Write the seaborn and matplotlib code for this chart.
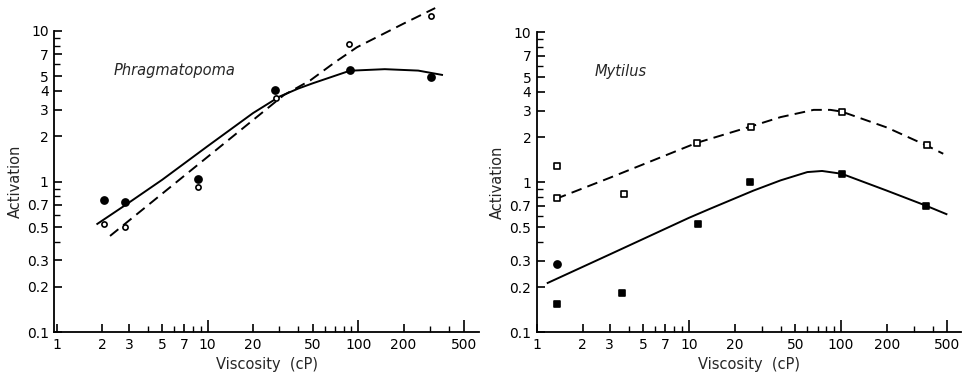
import numpy as np
import pandas as pd
import matplotlib
matplotlib.use("Agg")
import matplotlib.pyplot as plt
import seaborn as sns

# ---------------- data ----------------
# Phragmatopoma
phr_filled_x = [2.06, 2.85, 8.6, 28.1, 88, 304]
phr_filled_y = [0.76, 0.73, 1.04, 4.08, 5.52, 4.98]
phr_open_x = [2.06, 2.85, 8.6, 28.5, 87, 304]
phr_open_y = [0.52, 0.50, 0.92, 3.61, 8.25, 12.6]
phr_solid_x = [1.83, 2.85, 5, 10, 20, 30, 40, 50, 88, 150, 250, 365]
phr_solid_y = [0.52, 0.70, 1.03, 1.72, 2.85, 3.67, 4.15, 4.5, 5.45, 5.58, 5.46, 5.1]
phr_dash_x = [2.25, 32, 48, 70, 98, 200, 324]
phr_dash_y = [0.436, 3.75, 4.7, 6.2, 7.8, 11.2, 14.2]

# Mytilus
myt_open_sq_x = [1.36, 1.36, 3.75, 11.3, 25.5, 101.5, 365]
myt_open_sq_y = [0.78, 1.29, 0.83, 1.83, 2.34, 2.96, 1.76]
myt_filled_sq_x = [1.36, 3.65, 11.5, 25, 101.5, 360]
myt_filled_sq_y = [0.155, 0.182, 0.53, 1.0, 1.13, 0.70]
myt_filled_ci_x = [1.36]
myt_filled_ci_y = [0.284]
myt_solid_x = [1.16, 3, 10, 13.7, 26.5, 40, 60, 75, 101, 200, 360, 500]
myt_solid_y = [0.212, 0.33, 0.58, 0.665, 0.88, 1.03, 1.17, 1.19, 1.14, 0.88, 0.70, 0.61]
myt_dash_x = [1.33, 3, 11.2, 25.3, 40, 66, 85, 101, 200, 365, 470]
myt_dash_y = [0.775, 1.07, 1.83, 2.35, 2.72, 3.04, 3.04, 2.96, 2.32, 1.76, 1.55]

x_major = [1, 2, 3, 5, 7, 10, 20, 50, 100, 200, 500]
x_labels = ["1", "2", "3", "5", "7", "10", "20", "50", "100", "200", "500"]
x_minor = [4, 6, 8, 9, 30, 40, 60, 70, 80, 90, 300, 400]
y_major = [0.1, 0.2, 0.3, 0.5, 0.7, 1, 2, 3, 4, 5, 7, 10]
y_labels = ["0.1", "0.2", "0.3", "0.5", "0.7", "1", "2", "3", "4", "5", "7", "10"]
y_minor = [0.4, 0.6, 0.8, 0.9, 6, 8, 9]

# ---------------- style ----------------
sns.set_style("ticks")
plt.rcParams["font.family"] = ["DejaVu Sans"]

W, H = 972, 377
fig = plt.figure(figsize=(W / 100, H / 100), dpi=100)
fig.patch.set_facecolor("white")
ax1 = fig.add_axes([54.3 / W, (H - 332.3) / H, (479 - 54.3) / W, (332.3 - 31) / H])
ax2 = fig.add_axes([537 / W, (H - 332.3) / H, (961 - 537) / W, (332.3 - 32.3) / H])

LW = 1.4
DASH = (5.5, 3.2)


def line(ax, xs, ys, dashed):
    df = pd.DataFrame({"x": xs, "y": ys})
    n0 = len(ax.lines)
    sns.lineplot(data=df, x="x", y="y", ax=ax, color="black", lw=LW,
                 sort=False, estimator=None, legend=False)
    for ln in ax.lines[n0:]:
        ln.set_clip_on(False)
        ln.set_solid_capstyle("butt")
        ln.set_solid_joinstyle("round")
        if dashed:
            ln.set_linestyle((0, DASH))
            ln.set_dash_capstyle("butt")


def pts(ax, xs, ys, marker, filled, s):
    df = pd.DataFrame({"x": xs, "y": ys})
    sns.scatterplot(data=df, x="x", y="y", ax=ax, marker=marker, s=s,
                    facecolor="black" if filled else "white",
                    edgecolor="black", linewidth=1.2, clip_on=False,
                    zorder=5, legend=False)


# left panel
line(ax1, phr_solid_x, phr_solid_y, False)
line(ax1, phr_dash_x, phr_dash_y, True)
pts(ax1, phr_filled_x, phr_filled_y, "o", True, 26)
pts(ax1, phr_open_x, phr_open_y, "o", False, 14)

# right panel
line(ax2, myt_solid_x, myt_solid_y, False)
line(ax2, myt_dash_x, myt_dash_y, True)
pts(ax2, myt_open_sq_x, myt_open_sq_y, "s", False, 22)
pts(ax2, myt_filled_sq_x, myt_filled_sq_y, "s", True, 19)
pts(ax2, myt_filled_ci_x, myt_filled_ci_y, "o", True, 26)

for ax, xlim in ((ax1, (0.96, 633)), (ax2, (1.0, 615))):
    ax.set_xscale("log")
    ax.set_yscale("log")
    ax.set_xlim(*xlim)
    ax.set_ylim(0.1, 10)
    ax.set_facecolor("white")
    ax.spines["top"].set_visible(False)
    ax.spines["right"].set_visible(False)
    for sp in ("left", "bottom"):
        ax.spines[sp].set_linewidth(1.3)
        ax.spines[sp].set_color("black")
    ax.set_xticks(x_major)
    ax.set_xticklabels(x_labels)
    ax.set_xticks(x_minor, minor=True)
    ax.set_yticks(y_major)
    ax.set_yticklabels(y_labels)
    ax.set_yticks(y_minor, minor=True)
    ax.tick_params(which="major", direction="in", length=6, width=1.2,
                   labelsize=10, pad=4, colors="black")
    ax.tick_params(which="minor", direction="in", length=4, width=1.0,
                   colors="black")
    for t, v in zip(ax.xaxis.get_major_ticks(), x_major):
        if v in (10, 100, 500):
            t.tick1line.set_markersize(9)
    ax.set_xlabel("Viscosity  (cP)", fontsize=10.5, labelpad=4)
    ax.set_ylabel("Activation", fontsize=10.5, labelpad=3)

ax1.text(2.39, 5.45, "Phragmatopoma", fontsize=10.5, style="italic",
         va="center", ha="left")
ax2.text(2.4, 5.5, "Mytilus", fontsize=10.5, style="italic",
         va="center", ha="left")

fig.savefig("out.png", dpi=100, facecolor="white")
